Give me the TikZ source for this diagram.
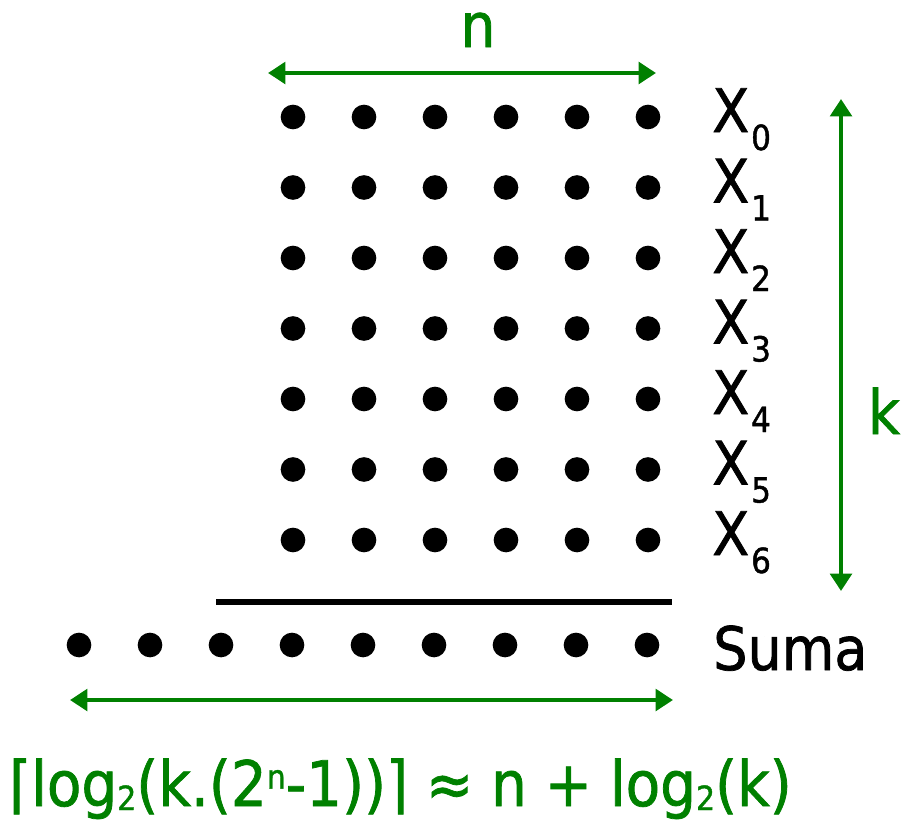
\documentclass[tikz,border=0pt]{standalone}
\usepackage{fontspec}
\setmainfont[FakeStretch=0.9,FakeBold=1.2]{DejaVu Sans}
\usetikzlibrary{arrows.meta}
\definecolor{dimgreen}{RGB}{0,128,0}
\newcommand{\lowtwo}{{\fontsize{25}{25}\selectfont\raisebox{-3pt}{2}}}
\newcommand{\highn}{{\fontsize{25}{25}\selectfont\raisebox{13pt}{n}}}

\begin{document}
\begin{tikzpicture}[
  x=0.75pt, y=-0.75pt,
  dot/.style={circle, fill=black, inner sep=0pt, minimum size=18.5pt},
  dimarrow/.style={draw=dimgreen, line width=3.6pt,
    {Triangle[length=13pt,width=16pt]}-{Triangle[length=13pt,width=16pt]}},
  rowlbl/.style={font=\fontsize{45}{50}\selectfont, inner sep=0pt},
  rowsub/.style={font=\fontsize{26}{30}\selectfont, inner sep=0pt},
  dimlbl/.style={font=\fontsize{46}{50}\selectfont, text=dimgreen, inner sep=0pt}
]
\useasboundingbox (0,0) rectangle (905,826);

% the numbers X_0 .. X_6, one row of bits each
\foreach \r in {0,...,6} {
  \foreach \c in {0,...,5}
    \node[dot] (x-\r-\c) at (293+71*\c, 117+70.5*\r) {};
  \node[rowlbl, anchor=base west] (X\r) at (712, 132+70.5*\r) {X};
  \node[rowsub, anchor=base west] (X\r-sub) at ([xshift=1pt,yshift=-13.5pt]X\r.base east) {\r};
}

% sum line and result
\draw[line width=4.5pt] (216,602) -- (672,602);
\foreach \c in {0,...,8}
  \node[dot] (s-\c) at (79+71*\c, 645) {};
\node[rowlbl, anchor=base west] (suma) at (713, 670) {Suma};

% dimensions
\coordinate (n-l) at (268,73);
\coordinate (n-r) at (656,73);
\draw[dimarrow] (n-l) -- (n-r);
\node[dimlbl, anchor=base] (n) at (478,47) {n};

\coordinate (k-t) at (841,99);
\coordinate (k-b) at (841,591);
\draw[dimarrow] (k-t) -- (k-b);
\node[dimlbl, anchor=base] (k) at (884,434) {k};

\coordinate (w-l) at (70,700);
\coordinate (w-r) at (673,700);
\draw[dimarrow] (w-l) -- (w-r);
\node[dimlbl, anchor=base west, font=\fontsize{47}{54}\selectfont] (width) at (9,806)
  {⌈log\lowtwo(k.(2\highn-1))⌉ ≈ n + log\lowtwo(k)};
\end{tikzpicture}
\end{document}
